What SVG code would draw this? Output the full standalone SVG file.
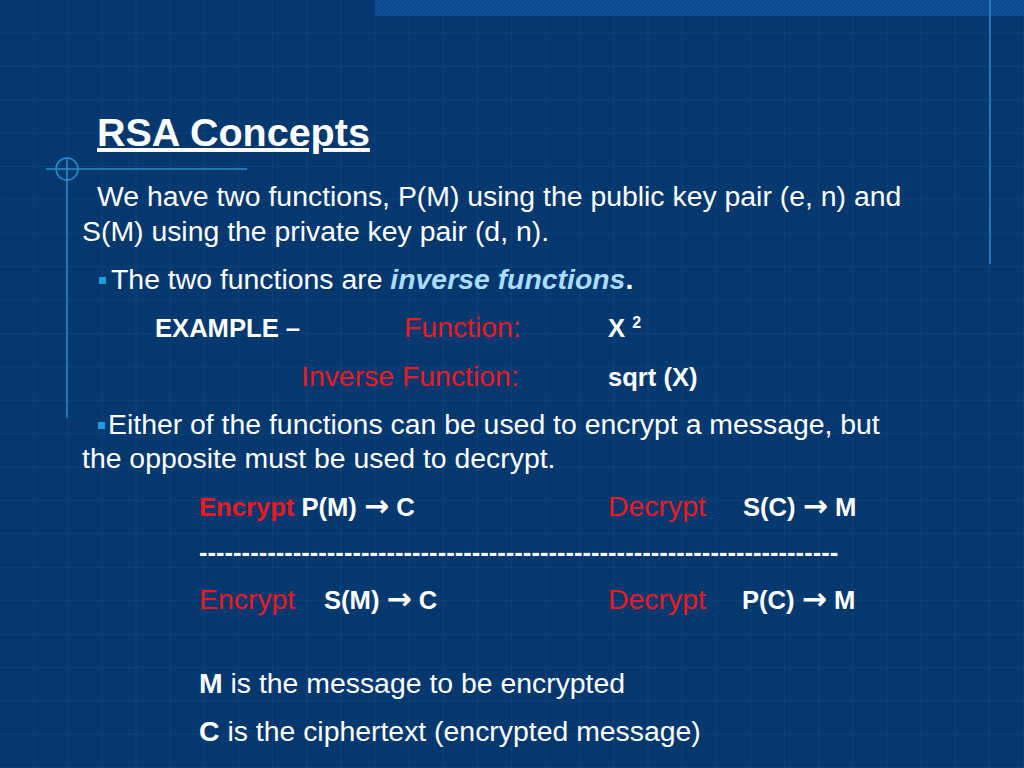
<svg xmlns="http://www.w3.org/2000/svg" width="1024" height="768" viewBox="0 0 1024 768">
<style>
text{font-family:"Liberation Sans",Arial,sans-serif;fill:#ffffff}
.b{font-weight:bold}
.body{font-size:28.4px}
.small{font-size:25.6px;font-weight:bold}
.red{fill:#ec1a1f}
.arr{font-family:"DejaVu Sans",sans-serif;font-size:30px;font-weight:bold}
.deco{stroke:#2a8ccc;stroke-width:1.5;fill:none}
.bullet{fill:#1aa0dc}
</style>
<defs>
<pattern id="grid" patternUnits="userSpaceOnUse" x="-1" y="-1" width="34.13" height="33.4">
<path d="M0.5 0V33.4M0 0.5H34.13" stroke="#ffffff" stroke-opacity="0.045" stroke-width="1"/>
</pattern>
<pattern id="check" patternUnits="userSpaceOnUse" width="4" height="4">
<rect width="4" height="4" fill="#0c4a8e"/>
<rect width="2" height="2" fill="#1054a0" opacity="0.6"/>
<rect x="2" y="2" width="2" height="2" fill="#1054a0" opacity="0.6"/>
</pattern>
</defs>
<g id="background">
<rect width="1024" height="768" fill="#04386f"/>
<rect width="1024" height="768" fill="url(#grid)"/>
<rect x="375" y="0" width="649" height="16" fill="url(#check)"/>
</g>
<g id="decorations">
<circle class="deco" cx="67" cy="169" r="11"/>
<line class="deco" x1="46" y1="169" x2="247" y2="169"/>
<line class="deco" x1="67" y1="157" x2="67" y2="418"/>
<line class="deco" x1="990" y1="0" x2="990" y2="264"/>
</g>
<g id="title">
<text x="97" y="146" class="b" font-size="39.5" text-decoration="underline">RSA Concepts</text>
</g>
<g id="intro">
<text x="97" y="206" class="body">We have two functions, P(M) using the public key pair (e, n) and</text>
<text x="82" y="241" class="body">S(M) using the private key pair (d, n).</text>
</g>
<g id="bullet1">
<rect class="bullet" x="99" y="277" width="7" height="7"/>
<text x="111" y="289" class="body">The two functions are <tspan class="b" font-style="italic" fill="#aadcff">inverse functions</tspan><tspan class="b">.</tspan></text>
</g>
<g id="example">
<text x="155" y="337" class="small">EXAMPLE –</text>
<text x="404" y="337" class="body red">Function:</text>
<text x="608" y="337" class="small">X <tspan font-size="16" dy="-9">2</tspan></text>
<text x="301" y="386" class="body red">Inverse Function:</text>
<text x="608" y="386" class="small">sqrt (X)</text>
</g>
<g id="bullet2">
<rect class="bullet" x="98" y="422" width="7" height="7"/>
<text x="108" y="434" class="body">Either of the functions can be used to encrypt a message, but</text>
<text x="82" y="468" class="body">the opposite must be used to decrypt.</text>
</g>
<g id="row1">
<text x="199" y="516" class="small"><tspan class="red">Encrypt</tspan> P(M) <tspan class="arr">→</tspan> C</text>
<text x="608" y="516" class="body red">Decrypt</text>
<text x="743" y="516" class="small">S(C) <tspan class="arr">→</tspan> M</text>
</g>
<g id="separator">
<text x="199" y="561" class="small">---------------------------------------------------------------------------</text>
</g>
<g id="row2">
<text x="199" y="609" class="body red">Encrypt</text>
<text x="324" y="609" class="small">S(M) <tspan class="arr">→</tspan> C</text>
<text x="608" y="609" class="body red">Decrypt</text>
<text x="742" y="609" class="small">P(C) <tspan class="arr">→</tspan> M</text>
</g>
<g id="legend">
<text x="199" y="693" class="body"><tspan class="b">M</tspan> is the message to be encrypted</text>
<text x="199" y="741" class="body"><tspan class="b">C</tspan> is the ciphertext (encrypted message)</text>
</g>
</svg>
